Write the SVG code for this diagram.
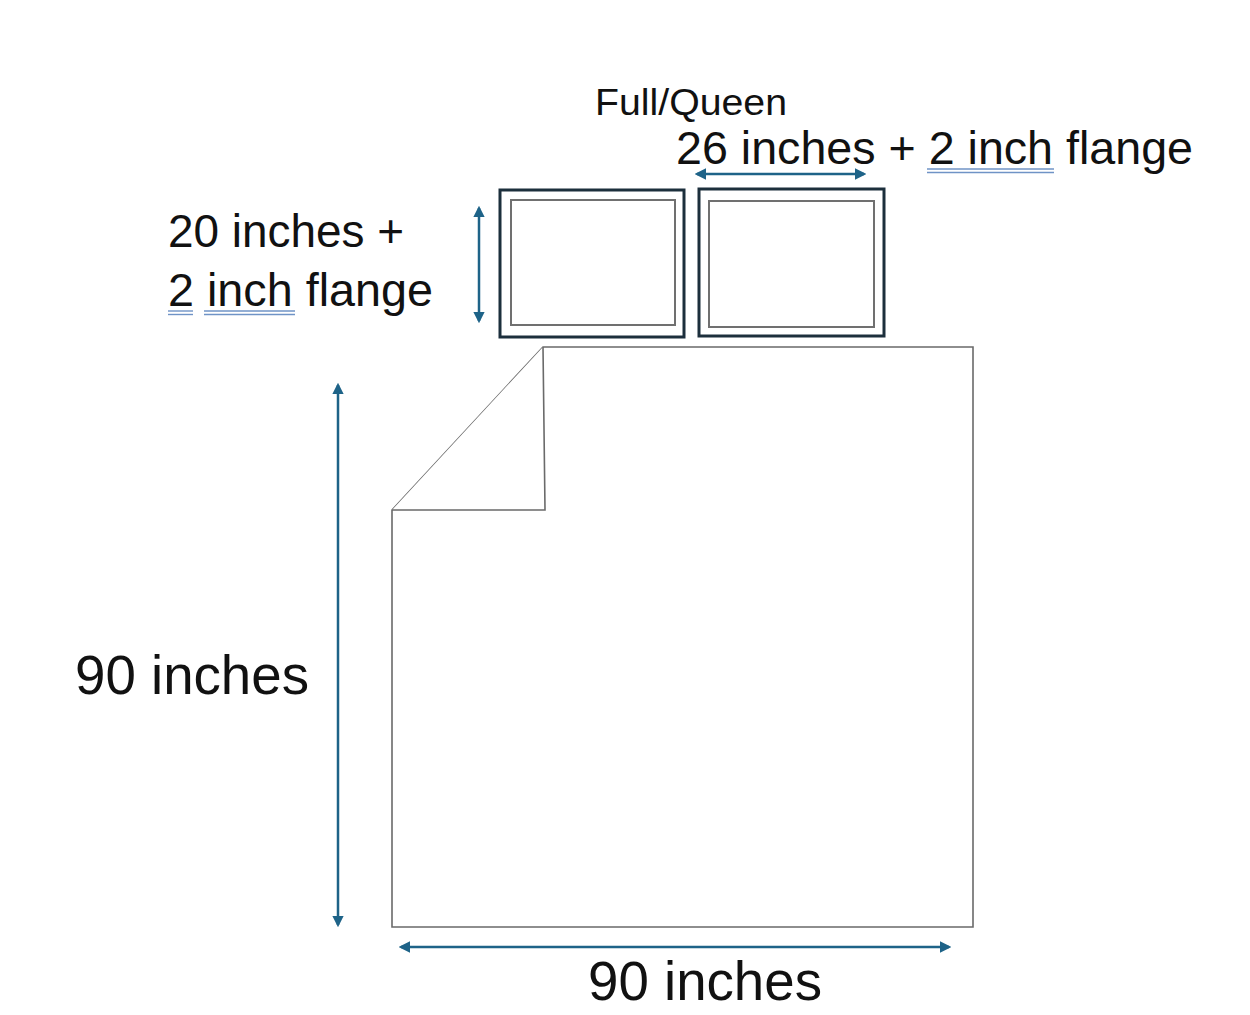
<svg xmlns="http://www.w3.org/2000/svg" width="1250" height="1015" viewBox="0 0 1250 1015">
<style>
  text { font-family: "Liberation Sans", Arial, sans-serif; fill: #111; }
  .dim { stroke: #1e6388; stroke-width: 2.5; fill: none; marker-start: url(#ah); marker-end: url(#ah); }
  .outer { fill: #fff; stroke: #1c2f3c; stroke-width: 3; }
  .inner { fill: #fff; stroke: #707070; stroke-width: 2; }
  .sheet { fill: #fff; stroke: #6a6a6a; stroke-width: 1.6; }
  .ul { stroke: #6f93c6; stroke-width: 1.4; fill: none; }
</style>
<defs>
  <marker id="ah" viewBox="0 0 10 10" refX="8" refY="5" markerWidth="4.6" markerHeight="4.6" orient="auto-start-reverse" markerUnits="strokeWidth">
    <path d="M0,0 L10,5 L0,10 Z" fill="#1e6388"/>
  </marker>
</defs>
<rect width="1250" height="1015" fill="#fff"/>

<g id="pillow-left">
  <rect class="outer" x="500" y="190" width="184" height="147"/>
  <rect class="inner" x="511" y="200" width="164" height="125"/>
</g>
<g id="pillow-right">
  <rect class="outer" x="699" y="189" width="185" height="147"/>
  <rect class="inner" x="709" y="201" width="165" height="126"/>
</g>
<g id="duvet">
  <polygon class="sheet" points="392,510 543,347 973,347 973,927 392,927"/>
  <polyline class="sheet" points="543,347 545,510 392,510" fill="none"/>
</g>

<g id="connectors">
  <line class="dim" x1="697" y1="174" x2="864" y2="174"/>
  <line class="dim" x1="479" y1="208" x2="479" y2="321"/>
  <line class="dim" x1="338" y1="385" x2="338" y2="925"/>
  <line class="dim" x1="401" y1="947" x2="949" y2="947"/>
</g>

<g id="labels">
  <text x="595" y="115" font-size="37" textLength="192" lengthAdjust="spacingAndGlyphs">Full/Queen</text>
  <text x="676" y="164" font-size="46" textLength="517" lengthAdjust="spacingAndGlyphs">26 inches + 2 inch flange</text>
  <line class="ul" x1="927" y1="169" x2="1054" y2="169"/>
  <line class="ul" x1="927" y1="172.5" x2="1054" y2="172.5"/>
  <text x="168" y="247" font-size="46" textLength="236" lengthAdjust="spacingAndGlyphs">20 inches +</text>
  <text x="168" y="306" font-size="46" textLength="265" lengthAdjust="spacingAndGlyphs">2 inch flange</text>
  <line class="ul" x1="168" y1="311" x2="193" y2="311"/>
  <line class="ul" x1="168" y1="314.5" x2="193" y2="314.5"/>
  <line class="ul" x1="204" y1="311" x2="295" y2="311"/>
  <line class="ul" x1="204" y1="314.5" x2="295" y2="314.5"/>
  <text x="75" y="694" font-size="55" textLength="234" lengthAdjust="spacingAndGlyphs">90 inches</text>
  <text x="588" y="1000" font-size="55" textLength="234" lengthAdjust="spacingAndGlyphs">90 inches</text>
</g>
</svg>
